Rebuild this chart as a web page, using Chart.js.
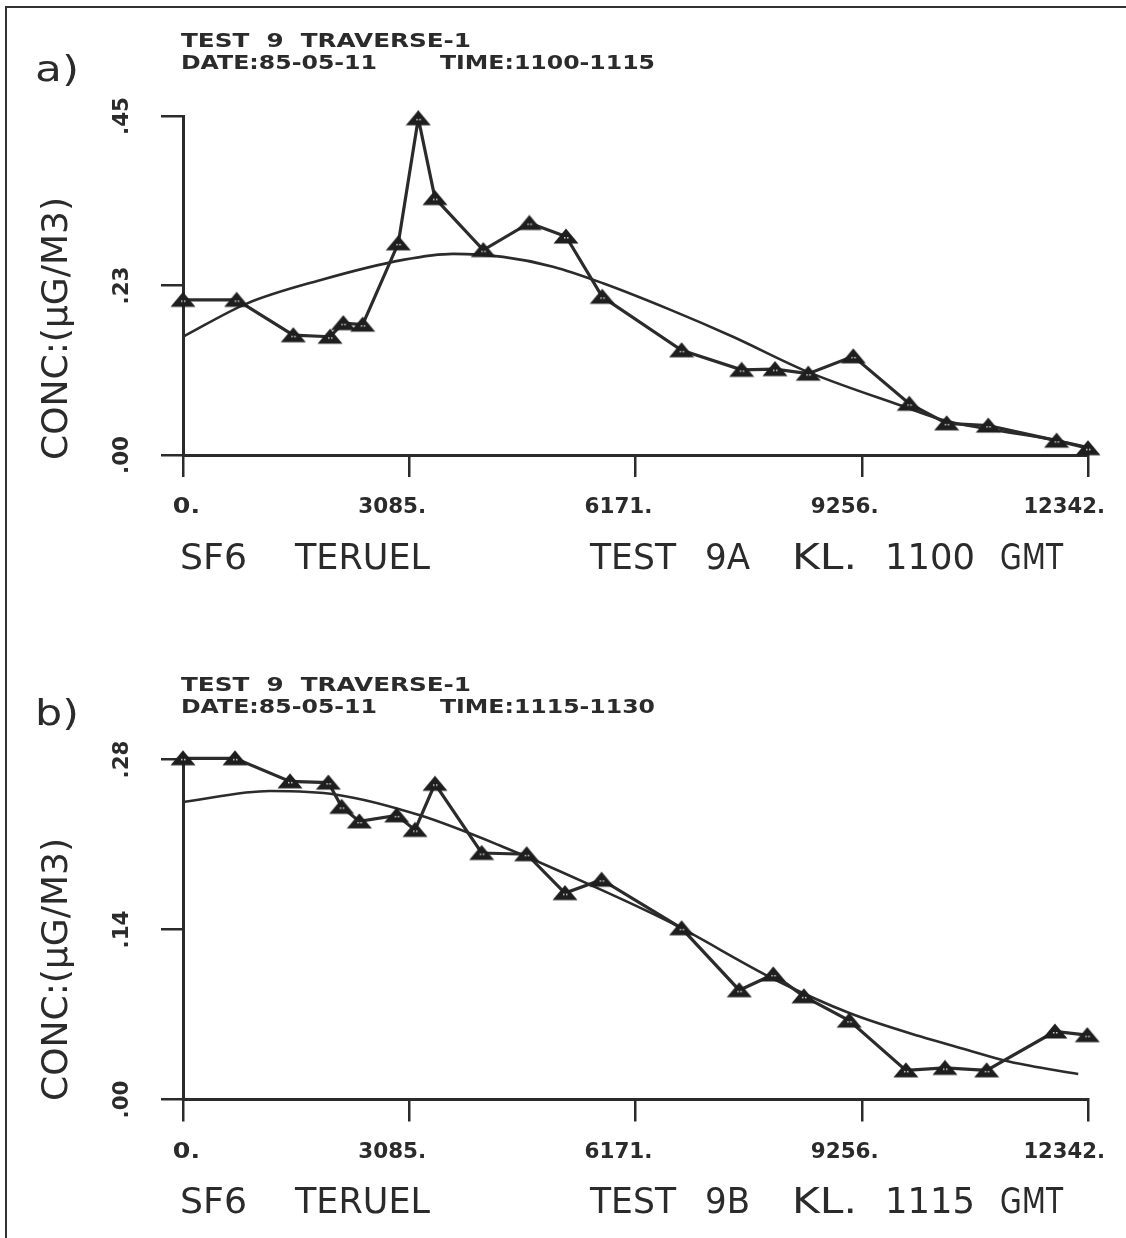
<!DOCTYPE html>
<html>
<head>
<meta charset="utf-8">
<script src="https://cdn.jsdelivr.net/npm/chart.js@4"></script>
<style>
  html, body { margin: 0; padding: 0; background: #fff; }
  #wrap { position: relative; width: 1126px; height: 1238px; overflow: hidden; background: #fff; }
  #frame { position: absolute; left: 5px; top: 6px; width: 1200px; height: 1300px;
           border-left: 2px solid #333; border-top: 2px solid #333; pointer-events: none; }
  .cv { position: absolute; left: 0; }
</style>
</head>
<body>
<div id="wrap">
  <div class="cv" style="top:0;width:1126px;height:620px"><canvas id="ca"></canvas></div>
  <div class="cv" style="top:620px;width:1126px;height:618px"><canvas id="cb"></canvas></div>
  <div id="frame"></div>
</div>
<script>
// ---------- data ----------
const xTickValues = [0, 3085.5, 6171, 9256.5, 12342];
const xTickLabels = ["0.", "3085.", "6171.", "9256.", "12342."];

// panel a
const obsXa = [0, 732, 1504, 2005, 2186, 2450, 2936, 3209, 3436, 4095, 4723, 5223, 5718, 6800, 7619, 8073, 8527, 9141, 9905, 10414, 10982, 11914, 12342];
const obsYa = [0.206, 0.206, 0.159, 0.157, 0.175, 0.173, 0.281, 0.447, 0.341, 0.272, 0.308, 0.290, 0.210, 0.139, 0.113, 0.114, 0.108, 0.131, 0.068, 0.042, 0.039, 0.019, 0.009];
const fitXa = [0, 869, 1868, 3000, 3682, 4364, 5046, 5728, 6641, 7500, 8505, 9780, 10414, 11891, 12342];
const fitYa = [0.157, 0.201, 0.232, 0.259, 0.267, 0.263, 0.250, 0.228, 0.193, 0.157, 0.111, 0.066, 0.045, 0.020, 0.010];
const yTickValuesA = [0, 0.225, 0.45];
const yTickLabelsA = [".00", ".23", ".45"];

// panel b
const obsXb = [0, 709, 1459, 1982, 2164, 2405, 2914, 3164, 3436, 4073, 4687, 5209, 5709, 6800, 7586, 8050, 8468, 9086, 9859, 10391, 10960, 11891, 12332];
const obsYb = [0.281, 0.281, 0.262, 0.261, 0.241, 0.229, 0.234, 0.222, 0.260, 0.203, 0.202, 0.170, 0.181, 0.141, 0.090, 0.103, 0.085, 0.065, 0.024, 0.026, 0.024, 0.056, 0.053];
const fitXb = [0, 1187, 2096, 3232, 4368, 5509, 6641, 8096, 9096, 10050, 10687, 11278, 12209];
const fitYb = [0.245, 0.254, 0.251, 0.234, 0.208, 0.178, 0.146, 0.098, 0.071, 0.052, 0.041, 0.031, 0.021];
const yTickValuesB = [0, 0.14, 0.28];
const yTickLabelsB = [".00", ".14", ".28"];

const headerA = ["TEST  9  TRAVERSE-1", "DATE:85-05-11", "TIME:1100-1115"];
const headerB = ["TEST  9  TRAVERSE-1", "DATE:85-05-11", "TIME:1115-1130"];
const footA = ["SF6", "TERUEL", "TEST", "9A", "KL.", "1100", "GMT"];
const footB = ["SF6", "TERUEL", "TEST", "9B", "KL.", "1115", "GMT"];
const yTitle = "CONC:(µG/M3)";

// ---------- helpers ----------
const INK = "#2b2b2b";
function pts(xs, ys) { return xs.map((x, i) => ({ x: x, y: ys[i] })); }

function triangleMarker() {
  const c = document.createElement("canvas");
  c.width = 26; c.height = 17;
  const g = c.getContext("2d");
  g.fillStyle = "#1e1e1e";
  g.beginPath();
  g.moveTo(13, 0.5); g.lineTo(25.5, 15.5); g.lineTo(0.5, 15.5); g.closePath();
  g.fill();
  g.fillStyle = "#cfcfcf";
  g.fillRect(11, 9, 1.5, 1.5); g.fillRect(14, 9, 1.5, 1.5);
  return c;
}
const TRI = triangleMarker();

function fitText(ctx, text, x, y, w, font, rot) {
  ctx.save();
  ctx.font = font;
  ctx.fillStyle = INK;
  ctx.textBaseline = "middle";
  ctx.textAlign = "left";
  const m = ctx.measureText(text).width;
  ctx.translate(x, y);
  if (rot) ctx.rotate(rot);
  ctx.scale(w / m, 1);
  ctx.fillText(text, 0, 0);
  ctx.restore();
}

const FOOT_X = [[180, 247], [295, 430], [590, 676], [705, 750], [792, 857], [885, 975], [1000, 1063]];

function textPlugin(cfg) {
  return {
    id: "texts_" + cfg.id,
    afterDraw(chart) {
      const ctx = chart.ctx;
      const off = cfg.offset;
      const xs = chart.scales.x, ys = chart.scales.y;
      // header
      fitText(ctx, cfg.header[0], 181, cfg.h1 - off, 290, "bold 20px 'DejaVu Sans'");
      fitText(ctx, cfg.header[1], 181, cfg.h2 - off, 196, "bold 20px 'DejaVu Sans'");
      fitText(ctx, cfg.header[2], 440, cfg.h2 - off, 215, "bold 20px 'DejaVu Sans'");
      // panel letter
      fitText(ctx, cfg.letter, 35, cfg.letterY - off, 44, "35px 'DejaVu Sans'");
      // x tick labels
      xTickValues.forEach((v, i) => {
        const px = xs.getPixelForValue(v);
        const lab = xTickLabels[i];
        const w = lab.length * 13.6;
        fitText(ctx, lab, px + 17 - w, xs.bottom + 31, w, "bold 21px 'DejaVu Sans'");
      });
      // y tick labels (rotated)
      cfg.yVals.forEach((v, i) => {
        const py = ys.getPixelForValue(v);
        fitText(ctx, cfg.yLabs[i], 123, py + 19, 38, "bold 21px 'DejaVu Sans'", -Math.PI / 2);
      });
      // y title
      fitText(ctx, yTitle, 58, cfg.titleBottom - off, 263, "36px 'DejaVu Sans'", -Math.PI / 2);
      // footer words
      cfg.foot.forEach((w, i) => {
        const r = FOOT_X[i];
        fitText(ctx, w, r[0], cfg.footY - off, r[1] - r[0], "36px 'DejaVu Sans'");
      });
    }
  };
}

function makeChart(id, obs, fit, ymax, yVals, pad, tcfg) {
  return new Chart(document.getElementById(id), {
    type: "line",
    data: {
      datasets: [
        {
          label: "observed",
          data: obs,
          borderColor: INK,
          borderWidth: 3.2,
          pointStyle: TRI,
          pointRadius: 9,
          tension: 0,
          clip: false,
          order: 1
        },
        {
          label: "fit",
          data: fit,
          borderColor: INK,
          borderWidth: 2.6,
          pointRadius: 0,
          cubicInterpolationMode: "monotone",
          clip: false,
          order: 2
        }
      ]
    },
    options: {
      responsive: true,
      maintainAspectRatio: false,
      animation: false,
      devicePixelRatio: 1,
      layout: { padding: pad },
      plugins: { legend: { display: false }, tooltip: { enabled: false }, title: { display: false } },
      scales: {
        x: {
          type: "linear", min: 0, max: 12342,
          afterBuildTicks: (s) => { s.ticks = xTickValues.map(v => ({ value: v })); },
          ticks: { display: false },
          grid: { display: true, drawOnChartArea: false, drawTicks: true, tickLength: 22, color: INK, lineWidth: 2.5 },
          border: { display: true, color: INK, width: 3 }
        },
        y: {
          type: "linear", min: 0, max: ymax,
          afterBuildTicks: (s) => { s.ticks = yVals.map(v => ({ value: v })); },
          ticks: { display: false },
          grid: { display: true, drawOnChartArea: false, drawTicks: true, tickLength: 22, color: INK, lineWidth: 2.5 },
          border: { display: true, color: INK, width: 3 }
        }
      }
    },
    plugins: [textPlugin(tcfg)]
  });
}

makeChart("ca", pts(obsXa, obsYa), pts(fitXa, fitYa), 0.45, yTickValuesA,
  { left: 161, right: 38, top: 116, bottom: 143 },
  { id: "a", offset: 0, header: headerA, h1: 42, h2: 64, letter: "a)", letterY: 72,
    yVals: yTickValuesA, yLabs: yTickLabelsA, titleBottom: 460, foot: footA, footY: 560 });

makeChart("cb", pts(obsXb, obsYb), pts(fitXb, fitYb), 0.28, yTickValuesB,
  { left: 161, right: 38, top: 139.5, bottom: 116.5 },
  { id: "b", offset: 620, header: headerB, h1: 686, h2: 708, letter: "b)", letterY: 716,
    yVals: yTickValuesB, yLabs: yTickLabelsB, titleBottom: 1101, foot: footB, footY: 1204 });
</script>
</body>
</html>
